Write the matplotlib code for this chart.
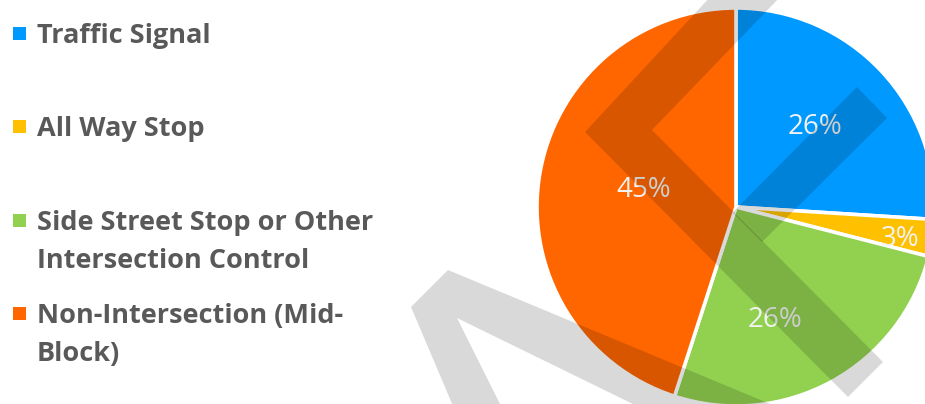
# pie chart of crash locations by intersection control type

import numpy as np
import matplotlib.pyplot as plt
from matplotlib.patches import Polygon, Rectangle

categories = ['Traffic Signal', 'All Way Stop',
              'Side Street Stop or Other\nIntersection Control',
              'Non-Intersection (Mid-\nBlock)']
shares = [26, 3, 26, 45]
colors = ['#0099FF', '#FFC000', '#92D050', '#FF6600']

# where excel put the % labels (fraction of radius, angle nudge in degrees)
label_r = [0.565, 0.84, 0.6, 0.47]
label_nudge = [2, -2, -9.5, -1.5]

W, H = 925, 404
fig = plt.figure(figsize=(W / 100, H / 100), dpi=100)
plt.rcParams['font.family'] = ['Open Sans', 'DejaVu Sans']

# pie centre (736, 207) px, radius 199 px
cx, cy, r = 736, 207, 199
ax = fig.add_axes([(cx - r) / W, (H - cy - r) / H, 2 * r / W, 2 * r / H])
wedges, _ = ax.pie(shares, colors=colors, startangle=90, counterclock=False,
                   radius=1.0, wedgeprops=dict(edgecolor='white', linewidth=2.6))
ax.set_xlim(-1, 1)
ax.set_ylim(-1, 1)
ax.axis('off')

for w, v, d, n in zip(wedges, shares, label_r, label_nudge):
    ang = np.deg2rad((w.theta1 + w.theta2) / 2 + n)
    ax.text(d * np.cos(ang), d * np.sin(ang), '%d%%' % v, color='#F2F2F2',
            fontsize=20, ha='center', va='center', zorder=5)

# legend on the left, evenly spaced like the excel one
for i, (lab, c) in enumerate(zip(categories, colors)):
    base = 43 + 93.3 * i
    fig.add_artist(Rectangle((13 / W, 1 - (base - 3) / H), 13 / W, 13 / H,
                             transform=fig.transFigure, color=c, lw=0))
    for j, line in enumerate(lab.split('\n')):
        fig.text(37 / W, 1 - (base + 38 * j) / H, line, color='#595959',
                 fontsize=19.5, fontweight='bold', ha='left', va='baseline')

# grey watermark drawn over everything
marks = [
    [(712, -5), (782, -5), (652, 130), (883, 362), (848, 397), (585, 132)],
    [(857, 87), (887, 118), (762, 242), (732.5, 212.5)],
    [(448, 270), (775, 406), (637, 406), (457, 318), (501, 406), (453, 406), (411, 307)],
]
for pts in marks:
    fig.add_artist(Polygon([(x / W, 1 - y / H) for x, y in pts], closed=True,
                           transform=fig.transFigure, facecolor='black',
                           alpha=0.15, lw=0, zorder=10))

fig.savefig('out.png', dpi=100)
